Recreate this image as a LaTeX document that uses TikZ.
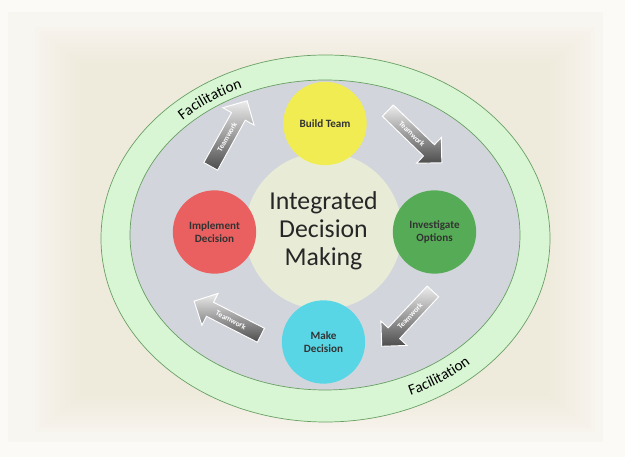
\documentclass[tikz,border=0pt]{standalone}
\usepackage{fontspec}
\setmainfont{Carlito}
\usepackage{tikz}
\usetikzlibrary{positioning}
\usetikzlibrary{shapes.arrows}
\usetikzlibrary{decorations.text}

\definecolor{paper}{RGB}{251,250,247}
\definecolor{panel}{RGB}{248,246,240}
\definecolor{sand}{RGB}{236,226,205}
\definecolor{mint}{RGB}{216,246,212}
\definecolor{mintline}{RGB}{105,160,100}
\definecolor{ringgray}{RGB}{210,214,220}
\definecolor{corefill}{RGB}{232,236,214}
\definecolor{buildcol}{RGB}{240,236,82}
\definecolor{investcol}{RGB}{86,172,86}
\definecolor{decidecol}{RGB}{88,214,230}
\definecolor{implcol}{RGB}{234,96,96}

\tikzset{
    stage/.style={circle, minimum size=2.5cm, inner sep=0pt, align=center,
        font=\fontsize{9.5}{11}\selectfont\bfseries, text=black!80},
    teamwork/.style={single arrow, minimum height=2.25cm, inner xsep=2pt, inner ysep=4pt,
        single arrow head extend=0.3cm, top color=gray!15, bottom color=black!70,
        draw=white, line width=0.8pt, font=\fontsize{6.5}{6.5}\selectfont\bfseries, text=white},
    ringtext/.style={decorate, decoration={text along path, text align=center,
        text={|\fontsize{13}{13}\selectfont|Facilitation}}}
}

\begin{document}
\begin{tikzpicture}[x=0.03cm, y=0.03cm]
    \useasboundingbox (0,0) rectangle (625,457);

    % background panel with a soft beige middle
    \fill[paper] (0,0) rectangle (625,457);
    \fill[panel] (8,15) rectangle (603,445);
    \foreach \i in {0,...,9}
        \fill[sand, opacity=0.06] (35+5*\i,25+4*\i) rectangle (595-5*\i,430-4*\i);

    % rings
    \draw[mintline, fill=mint, line width=0.6pt] (325.5,218.5) ellipse [x radius=6.735cm, y radius=5.505cm];
    \draw[mintline, fill=ringgray, line width=0.6pt] (325,222) ellipse [x radius=5.85cm, y radius=4.65cm];

    % centre and the four stages
    \node[circle, fill=corefill, minimum size=4.71cm, align=center, text=black!85,
          font=\fontsize{22}{24}\selectfont] (core) at (323.5,226) {Integrated\\Decision\\Making};
    \node[stage, fill=buildcol]  (build)       at (325,333.5) {Build Team};
    \node[stage, fill=investcol] (investigate) at (434.5,225) {Investigate\\Options};
    \node[stage, fill=decidecol] (decide)      at (323.5,115) {Make\\Decision};
    \node[stage, fill=implcol]   (implement)   at (214.5,225) {Implement\\Decision};

    % teamwork arrows between stages
    \node[teamwork, rotate=61]  (tw1) at (227,320) {Teamwork};
    \node[teamwork, rotate=-44] (tw2) at (412,323) {Teamwork};
    \node[teamwork, shape border rotate=180, rotate=47]  (tw3) at (410,141) {Teamwork};
    \node[teamwork, shape border rotate=180, rotate=-27] (tw4) at (231,137) {Teamwork};

    % facilitation labels on the outer ring
    \path[ringtext] (129.9,267.7) arc [start angle=163, end angle=89, x radius=6.12cm, y radius=4.89cm];
    \path[ringtext] (317.5,47.1) arc [start angle=-92, end angle=-18, x radius=6.42cm, y radius=5.19cm];
\end{tikzpicture}
\end{document}
